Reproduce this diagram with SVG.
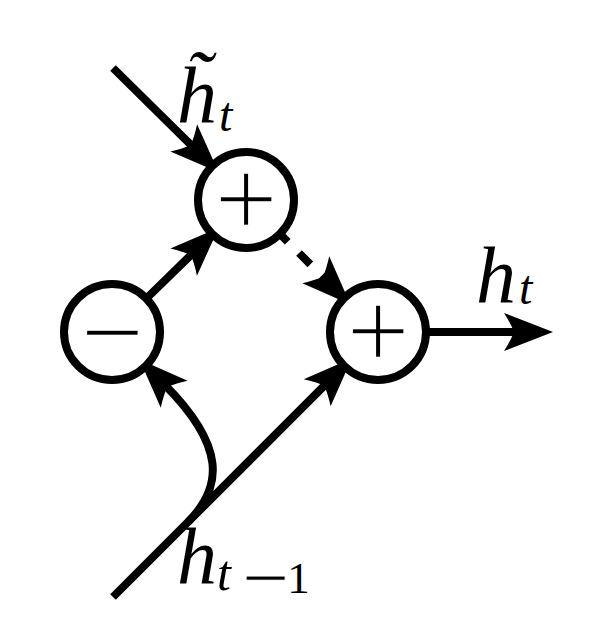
<svg xmlns="http://www.w3.org/2000/svg" width="604" height="638" viewBox="0 0 604 638">
<style>
.edge{fill:none;stroke:#000;stroke-width:8;stroke-linecap:butt}
.dash{stroke-dasharray:16 16}
.node{fill:#fff;stroke:#000;stroke-width:8}
.op{font-family:"Liberation Serif",serif;font-size:112px;text-anchor:middle;fill:#000;stroke:#fff;stroke-width:1.6px}
.lbl{font-family:"Liberation Serif",serif;font-style:italic;font-size:80px;fill:#000}
.up{font-style:normal}
</style>
<defs>
<marker id="ah" markerUnits="userSpaceOnUse" markerWidth="60" markerHeight="44" viewBox="0 -22 60 44" refX="14" refY="0" orient="auto" overflow="visible">
<path d="M49 0 L0 -19 Q7 -8 10 0 Q7 8 0 19 Z" fill="#000"/>
</marker>
</defs>
<rect width="604" height="638" fill="#fff"/>
<g id="connectors">
<path class="edge" d="M113 68 L193.7 147.7" marker-end="url(#ah)"/>
<path class="edge" d="M112 332 L193.7 252.3" marker-end="url(#ah)"/>
<path class="edge dash" d="M276.4 230.4 L325.7 279.7" marker-end="url(#ah)"/>
<path class="edge" d="M113 597 L327.1 382.9" marker-end="url(#ah)"/>
<path class="edge" d="M378 332 H518" marker-end="url(#ah)"/>
<path class="edge" d="M188 522 C223 487 226 446 164.3 384.3" marker-end="url(#ah)"/>
</g>
<g id="node-add1">
<circle class="node" cx="246" cy="200" r="48"/>
<text class="op" x="246" y="237">+</text>
</g>
<g id="node-sub">
<circle class="node" cx="112" cy="332" r="48"/>
<text class="op" x="112" y="370">−</text>
</g>
<g id="node-add2">
<circle class="node" cx="378" cy="332" r="48"/>
<text class="op" x="378" y="369">+</text>
</g>
<g id="labels">
<text class="lbl" x="177" y="122">h̃<tspan dx="2" dy="9" font-size="48">t</tspan></text>
<text class="lbl" x="476" y="302">h<tspan dx="3" dy="2" font-size="48">t</tspan></text>
<text class="lbl" x="177" y="583">h<tspan dy="7" font-size="50">t</tspan><tspan class="up" dx="11" dy="16" font-size="84" stroke="#fff" stroke-width="1">−</tspan><tspan class="up" dx="-2" dy="-13" font-size="45">1</tspan></text>
</g>
</svg>
